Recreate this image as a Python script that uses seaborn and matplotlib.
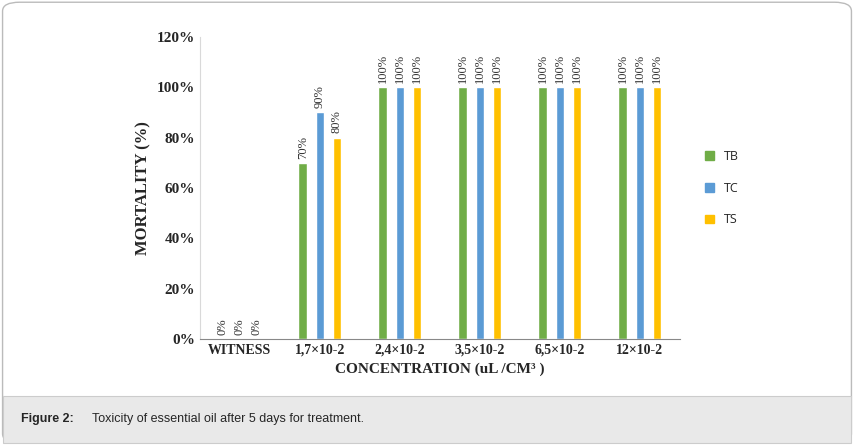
import matplotlib
matplotlib.use("Agg")
import matplotlib.pyplot as plt
import matplotlib.patches as mpatches
import seaborn as sns
import pandas as pd

categories = ["WITNESS", "1,7×10-2", "2,4×10-2", "3,5×10-2", "6,5×10-2", "12×10-2"]
tb = [0, 70, 100, 100, 100, 100]
tc = [0, 90, 100, 100, 100, 100]
ts = [0, 80, 100, 100, 100, 100]
series = ["TB", "TC", "TS"]
colors = ["#70AD47", "#5B9BD5", "#FFC000"]

rows = []
for name, vals in zip(series, [tb, tc, ts]):
    for c, v in zip(categories, vals):
        rows.append({"cat": c, "series": name, "val": v})
df = pd.DataFrame(rows)

sns.set_style("white")
serif = ["Liberation Serif", "DejaVu Serif"]

fig = plt.figure(figsize=(8.54, 4.45), dpi=100)
# outer frame and caption band, drawn behind the axes
fig.patches.append(mpatches.FancyBboxPatch((0.003, 0.005), 0.994, 0.99, boxstyle="round,pad=0,rounding_size=0.02",
                                           transform=fig.transFigure, fc="white", ec="#bbbbbb", lw=1, zorder=-5))
fig.patches.append(mpatches.Rectangle((0.003, 0.005), 0.994, 0.105, transform=fig.transFigure,
                                      fc="#e9e9e9", ec="#cccccc", lw=0.8, zorder=-4))
fig.text(0.025, 0.058, "Figure 2:", fontsize=9, fontweight="bold", va="center", family="Liberation Sans")
fig.text(0.108, 0.058, "Toxicity of essential oil after 5 days for treatment.", fontsize=9, va="center",
         family="Liberation Sans")

ax = fig.add_axes([0.234, 0.238, 0.562, 0.679])
sns.barplot(data=df, x="cat", y="val", hue="series", palette=colors, width=0.64, gap=0.5,
            ax=ax, saturation=1)
for cont in ax.containers:
    ax.bar_label(cont, labels=[f"{int(v)}%" for v in cont.datavalues], rotation=90,
                 padding=3, fontsize=9, family=serif, color="#333333")

ax.set_ylim(0, 120)
ax.set_yticks(range(0, 121, 20))
ax.set_yticklabels([f"{t}%" for t in range(0, 121, 20)], fontweight="bold", family=serif, fontsize=11)
ax.set_xticks(range(len(categories)))
ax.set_xticklabels(categories, fontweight="bold", family=serif, fontsize=10)
ax.tick_params(axis="both", length=0)
for s in ["top", "right"]:
    ax.spines[s].set_visible(False)
ax.spines["left"].set_color("#d9d9d9")
ax.spines["bottom"].set_color("#888888")
ax.set_xlabel("CONCENTRATION (uL /CM³ )", fontweight="bold", family=serif, fontsize=11)
ax.set_ylabel("MORTALITY (%)", fontweight="bold", family=serif, fontsize=12)

handles = [mpatches.Patch(color=c) for c in colors]
ax.legend(handles, series, loc="center left", bbox_to_anchor=(1.03, 0.5), frameon=False,
          handlelength=0.7, handleheight=0.7, labelspacing=1.5, prop={"family": "Open Sans", "size": 9})

fig.savefig("out.png", dpi=100)
